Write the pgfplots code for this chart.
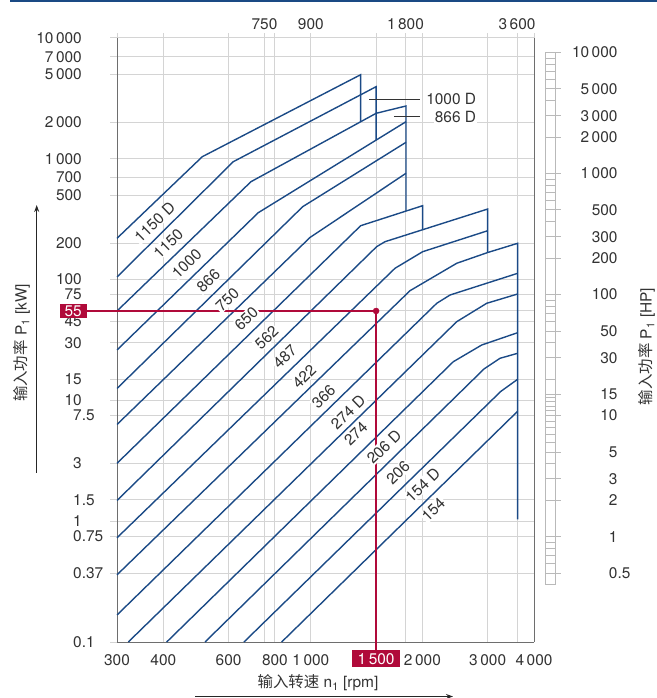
\documentclass[border=0pt]{standalone}
\usepackage{pgfplots}
\pgfplotsset{compat=1.18}
\usetikzlibrary{arrows.meta}
\usepackage{fontspec}
\setmainfont{TeX Gyre Heros}
\newfontfamily\cjk{Noto Sans CJK SC}
\definecolor{navy}{RGB}{27,74,134}
\definecolor{gridc}{RGB}{212,212,212}
\definecolor{axc}{RGB}{110,110,110}
\definecolor{txt}{RGB}{51,51,51}
\definecolor{crim}{RGB}{176,10,58}
\definecolor{hdr}{RGB}{26,74,132}
\definecolor{rul}{RGB}{185,185,185}
\newcommand\lbl{\fontsize{15.5}{18}\selectfont}
\begin{document}
\begin{tikzpicture}
\useasboundingbox (0,0) rectangle (657bp,698bp);
\draw[hdr, line width=2.5bp] (10bp,697bp) -- (657bp,697bp);
% main axis
\begin{axis}[
  at={(117bp,56bp)}, anchor=south west,
  scale only axis, width=417bp, height=604bp,
  xmode=log, ymode=log,
  xmin=300, xmax=4000, ymin=0.1, ymax=10000,
  clip=false,
  axis x line*=bottom, axis y line*=box,
  axis line style={draw=axc, line width=1bp},
  xtick={300,400,600,750,800,1000,1500,1800,2000,3000,3600,4000},
  xticklabels={300,400,600,,800,1\,000,,,2\,000,3\,000,,4\,000},
  ytick={0.1,0.37,0.75,1,1.5,3,7.5,10,15,30,45,55,75,100,200,500,700,1000,2000,5000,7000,10000},
  yticklabels={0\rlap{.1},0\rlap{.37},0\rlap{.75},1,1\rlap{.5},3,7\rlap{.5},10,15,30,45,,75,100,200,500,700,1\,000,2\,000,5\,000,7\,000,10\,000},
  minor xtick={}, minor ytick={},
  xtick pos=left, ytick pos=left,
  tick align=outside, major tick length=7bp,
  tick style={gridc, line width=1bp},
  xtick style={draw=none},
  grid=major, major grid style={gridc, line width=1bp},
  tick label style={font=\lbl, text=txt},
  yticklabel style={anchor=east, inner sep=0pt, xshift=-28bp},
  xticklabel style={yshift=-2bp},
]
\addplot[navy, line width=1.4bp] coordinates {(300,219.8) (509.6,1041) (1363,4969) (1363,2030)};
\addplot[navy, line width=1.4bp] coordinates {(300,105.1) (617.7,946) (1500,3954) (1500,1430)};
\addplot[navy, line width=1.4bp] coordinates {(300,54.97) (689.5,646.3) (1500,2380) (1806,2736) (1806,370)};
\addplot[navy, line width=1.4bp] coordinates {(300,26.14) (721.5,358.0) (1806,2028)};
\addplot[navy, line width=1.4bp] coordinates {(300,12.55) (950.6,401.3) (1806,1369)};
\addplot[navy, line width=1.4bp] coordinates {(300,6.318) (994.7,223.1) (1806,758.6)};
\addplot[navy, line width=1.4bp] coordinates {(300,3.015) (1363,279.4) (2003,409.1) (2003,258)};
\addplot[navy, line width=1.4bp] coordinates {(300,1.484) (1505,187.3) (1585,205.9) (3000,384.0) (3000,167.6)};
\addplot[navy, line width=1.4bp] coordinates {(300,0.729) (1687,124.1) (2003,170.2) (3000,253.9)};
\addplot[navy, line width=1.4bp] coordinates {(300,0.3599) (1852,80.94) (2475,136.5) (3000,167.6) (3613,199.7) (3613,1.037)};
\addplot[navy, line width=1.4bp] coordinates {(300,0.16737) (2186,63.65) (2374,74.56) (3613,112.7)};
\addplot[navy, line width=1.4bp] coordinates {(321.8,0.1) (2475,44.83) (2981,63.65) (3613,76.0)};
\addplot[navy, line width=1.4bp] coordinates {(408.5,0.1) (2423,20.91) (2890,28.74) (3613,36.35)};
\addplot[navy, line width=1.4bp] coordinates {(518.2,0.1) (2932,18.2) (3238,22.31) (3613,24.54)};
\addplot[navy, line width=1.4bp] coordinates {(660.2,0.1) (3252,11.85) (3613,14.95)};
\addplot[navy, line width=1.4bp] coordinates {(834.2,0.1) (3613,8.125)};
% operating point
\addplot[crim, line width=1.6bp] coordinates {(249,55) (1500,55) (1500,0.086)};
\addplot[crim, only marks, mark=*, mark size=3bp] coordinates {(1500,55)};
\node[fill=crim, text=white, font=\lbl, inner xsep=5bp, inner ysep=1.5bp, anchor=east] at (axis cs:300,55) [xshift=-30bp] {55};
\node[fill=crim, text=white, font=\lbl, inner xsep=5.5bp, inner ysep=3bp, anchor=north] at (axis cs:1500,0.1) [yshift=-8bp] {1\,500};
% curve labels
\begin{scope}[every node/.style={rotate=44, fill=white, inner sep=1bp, font=\lbl, text=txt}]
\node at (axis cs:379.2,298.1) {1150 D};
\node at (axis cs:412.6,199.7) {1150};
\node at (axis cs:462.5,136.5) {1000};
\node at (axis cs:528.9,97.9) {866};
\node at (axis cs:595.3,68.7) {750};
\node at (axis cs:669.7,47.8) {650};
\node at (axis cs:760.1,33.04) {562};
\node at (axis cs:851.6,22.99) {487};
\node at (axis cs:960.1,15.71) {422};
\node at (axis cs:1083,10.73) {366};
\node at (axis cs:1260,8.06) {274 D};
\node at (axis cs:1322,5.34) {274};
\node at (axis cs:1576,4.137) {206 D};
\node at (axis cs:1719,2.52) {206};
\node at (axis cs:2003,1.994) {154 D};
\node at (axis cs:2140,1.254) {154};
\end{scope}
\draw[black!80, line width=0.8bp] (axis cs:1437.5,3108) -- (axis cs:1970,3108);
\draw[black!80, line width=0.8bp] (axis cs:1676,2231) -- (axis cs:1970,2231);
\node[fill=white, inner sep=1bp, font=\lbl, text=txt, anchor=east] at (axis cs:2812,3108) {1000 D};
\node[fill=white, inner sep=1bp, font=\lbl, text=txt, anchor=east] at (axis cs:2812,2231) {866 D};
\end{axis}
% top axis
\begin{axis}[
  at={(117bp,56bp)}, anchor=south west,
  scale only axis, width=417bp, height=604bp,
  xmode=log, ymode=log,
  xmin=300, xmax=4000, ymin=0.1, ymax=10000,
  axis x line*=top, axis y line=none,
  x axis line style={draw=gridc, line width=1bp},
  xtick={300,400,600,750,800,1000,1500,1800,2000,3000,3600,4000},
  xticklabels={,,,750,,900,,1\,800,,,3\,600,},
  minor xtick={}, ytick=\empty,
  tick align=outside, major tick length=5bp,
  xtick style={gridc, line width=1bp},
  tick label style={font=\lbl, text=txt},
]
\end{axis}
% HP ruler
\begin{axis}[
  at={(545.7bp,113.3bp)}, anchor=south west,
  scale only axis, width=10bp, height=532.3bp,
  ymode=log, ymin=0.4, ymax=10000, xmin=0, xmax=1,
  axis x line=none, axis y line*=box,
  y axis line style={draw=rul, line width=0.8bp},
  ytick={0.5,1,2,3,5,10,15,30,50,100,200,300,500,1000,2000,3000,5000,10000},
  yticklabels={0\rlap{.5},1,2,3,5,10,15,30,50,100,200,300,500,1\,000,2\,000,3\,000,5\,000,10\,000},
  minor ytick={0.4,0.6,0.7,0.8,0.9,4,6,7,8,9,11,12,13,14,20,40,60,70,80,90,400,600,700,800,900,4000,6000,7000,8000,9000},
  ytick pos=left, yticklabel pos=right,
  tick align=inside, major tick length=15bp, minor tick length=10bp,
  tick style={rul, line width=0.8bp},
  tick label style={font=\lbl, text=txt},
  yticklabel style={anchor=east, inner sep=0pt, xshift=62bp},
]
\end{axis}
% axis titles
\node[rotate=90, font=\lbl, text=txt] at (21.7bp,355bp) {{\cjk 输入功率} P\textsubscript{1} [kW]};
\draw[-{Stealth[length=7bp,width=5bp]}, black!85, line width=1bp] (36.7bp,225bp) -- (36.7bp,493bp);
\node[rotate=90, font=\lbl, text=txt] at (646.7bp,351.5bp) {{\cjk 输入功率} P\textsubscript{1} [HP]};
\node[font=\lbl, text=txt] at (318bp,15bp) {{\cjk 输入转速} n\textsubscript{1} [rpm]};
\draw[-{Stealth[length=7bp,width=5bp]}, black!85, line width=1bp] (195bp,1.5bp) -- (453bp,1.5bp);
\end{tikzpicture}
\end{document}
